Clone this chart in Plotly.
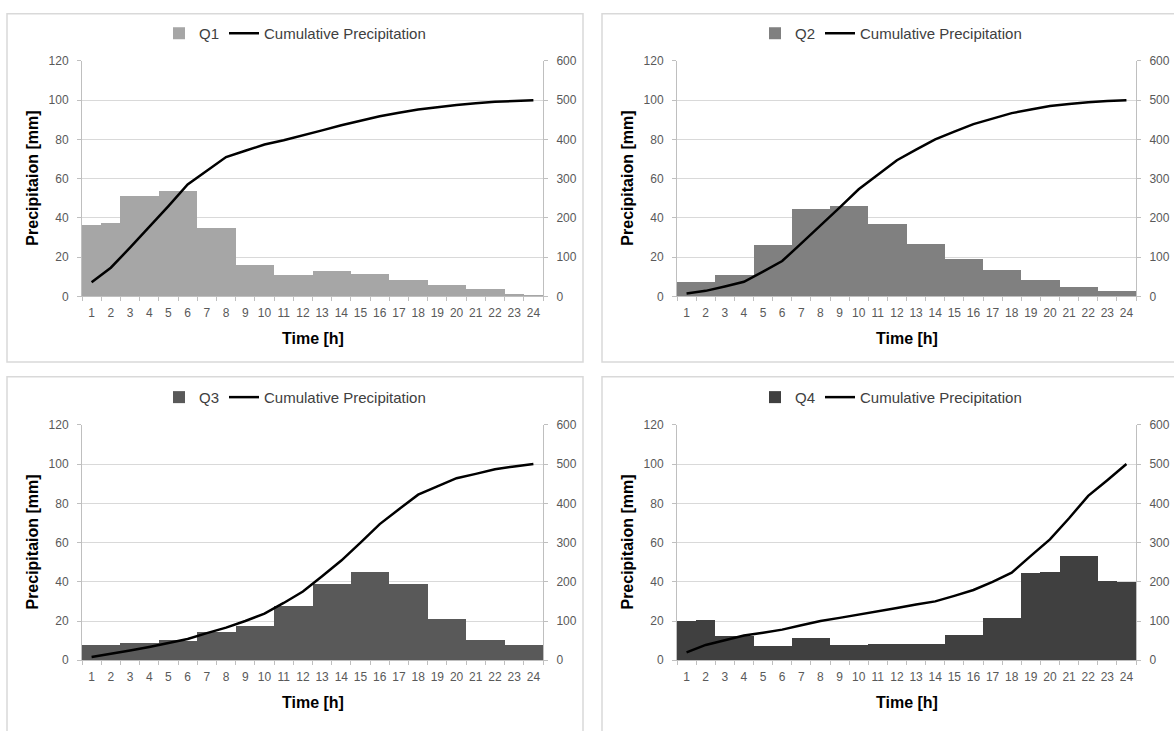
import plotly.graph_objects as go

# ---------------- data ----------------
hours = [str(h) for h in range(1, 25)]

q1 = [36.5, 37.5, 51.2, 51.0, 53.8, 53.8, 34.9, 34.9, 15.9, 15.9, 11.1, 10.8,
      13.2, 13.2, 11.4, 11.4, 8.6, 8.6, 6.0, 6.0, 3.6, 3.6, 1.2, 0.8]
cum1 = [36, 73, 124, 176, 230, 285, 320, 355, 371, 387, 398, 410,
        423, 436, 448, 459, 468, 476, 482, 488, 492, 496, 498, 500]

q2 = [7.1, 7.5, 10.9, 10.9, 26.0, 26.3, 44.4, 44.4, 46.2, 46.2, 37.1, 37.1,
      26.7, 26.5, 19.2, 19.2, 13.7, 13.7, 8.6, 8.6, 4.8, 4.8, 2.8, 2.8]
cum2 = [7, 14, 25, 37, 63, 90, 135, 180, 226, 273, 310, 347,
        374, 400, 420, 439, 453, 467, 476, 485, 490, 495, 498, 500]

q3 = [8.1, 8.1, 8.8, 8.8, 10.4, 10.1, 14.6, 14.3, 17.4, 17.4, 27.5, 27.5,
      38.8, 38.8, 45.1, 45.1, 38.8, 38.8, 21.2, 21.0, 10.6, 10.6, 8.0, 8.0]
cum3 = [8, 16, 25, 34, 44, 54, 69, 83, 100, 119, 146, 175,
        214, 254, 300, 347, 385, 422, 443, 464, 475, 487, 494, 500]

q4 = [20.0, 20.4, 12.3, 12.3, 7.3, 7.3, 11.6, 11.3, 8.1, 8.1, 8.6, 8.6,
      8.3, 8.3, 12.8, 12.8, 21.4, 21.7, 44.8, 45.1, 53.0, 53.0, 40.3, 39.9]
cum4 = [20, 39, 51, 63, 70, 78, 89, 100, 108, 116, 125, 133,
        142, 150, 164, 179, 200, 223, 266, 308, 362, 419, 459, 500]

left_ticks = [0, 20, 40, 60, 80, 100, 120]
right_ticks = [0, 100, 200, 300, 400, 500, 600]

series_names = ["Q1", "Q2", "Q3", "Q4"]
bar_values = [q1, q2, q3, q4]
cum_values = [cum1, cum2, cum3, cum4]
bar_colors = ["#a6a6a6", "#808080", "#595959", "#404040"]
line_name = "Cumulative Precipitation"
y_title = "Precipitaion [mm]"
x_title = "Time [h]"

# ---------------- layout geometry (pixels) ----------------
W, H = 1174, 731
FONT = "Liberation Sans, Arial, sans-serif"


def fx(p):
    return p / W


def fy(p):
    return 1 - p / H


panels = [
    dict(x0=82, x1=543, yt=55, yb=295, box=(7, 7, 583, 362), legx=295, legy=27),
    dict(x0=677, x1=1136, yt=55, yb=295, box=(602, 7, 1190, 362), legx=891, legy=27),
    dict(x0=82, x1=543, yt=426, yb=666, box=(7, 377, 583, 745), legx=295, legy=398),
    dict(x0=677, x1=1136, yt=426, yb=666, box=(602, 377, 1190, 745), legx=891, legy=398),
]

fig = go.Figure()
layout = dict(
    width=W, height=H,
    margin=dict(l=0, r=0, t=0, b=0),
    paper_bgcolor="white", plot_bgcolor="white",
    font=dict(family=FONT, size=12, color="#595959"),
    bargap=0,
    showlegend=True,
)
shapes = []
annotations = []

axis_line = "#bfbfbf"
grid = "#d9d9d9"

for i, p in enumerate(panels):
    n = i + 1
    xa = "x" if n == 1 else f"x{n}"
    yl_idx = 2 * i + 1
    yr_idx = 2 * i + 2
    yl = "y" if yl_idx == 1 else f"y{yl_idx}"
    yr = f"y{yr_idx}"
    leg = "legend" if n == 1 else f"legend{n}"

    fig.add_trace(go.Bar(
        x=hours, y=bar_values[i], name=series_names[i],
        marker=dict(color=bar_colors[i], line=dict(width=0)),
        xaxis=xa, yaxis=yl, legend=leg,
    ))
    fig.add_trace(go.Scatter(
        x=hours, y=cum_values[i], name=line_name, mode="lines",
        line=dict(color="black", width=2.5),
        xaxis=xa, yaxis=yr, legend=leg,
    ))

    xkey = "xaxis" if n == 1 else f"xaxis{n}"
    ylkey = "yaxis" if yl_idx == 1 else f"yaxis{yl_idx}"
    yrkey = f"yaxis{yr_idx}"
    ydom = [fy(p["yb"]), fy(p["yt"])]

    layout[xkey] = dict(
        domain=[fx(p["x0"]), fx(p["x1"])],
        anchor=yl, type="category",
        categoryorder="array", categoryarray=hours,
        range=[-0.5, 23.5],
        tickson="boundaries", ticks="outside", ticklen=4, tickcolor=axis_line,
        showline=True, linecolor=axis_line, linewidth=1,
        showgrid=False, zeroline=False,
        tickangle=0,
        tickfont=dict(size=12, color="#595959"),
        ticklabelstandoff=5,
        fixedrange=True,
    )
    layout[ylkey] = dict(
        domain=ydom, anchor=xa,
        range=[0, 120], tickvals=left_ticks,
        ticks="outside", ticklen=4, tickcolor=axis_line,
        showline=True, linecolor=axis_line, linewidth=1,
        showgrid=True, gridcolor=grid, gridwidth=1,
        zeroline=False,
        tickfont=dict(size=12, color="#595959"),
        ticklabelstandoff=6,
        fixedrange=True,
    )
    layout[yrkey] = dict(
        domain=ydom, anchor=xa, overlaying=yl, side="right",
        range=[0, 600], tickvals=right_ticks,
        ticks="outside", ticklen=4, tickcolor=axis_line,
        showline=True, linecolor=axis_line, linewidth=1,
        showgrid=False, zeroline=False,
        tickfont=dict(size=12, color="#595959"),
        ticklabelstandoff=6,
        fixedrange=True,
    )
    layout[leg] = dict(
        orientation="h",
        x=fx(p["legx"]), xanchor="center",
        y=fy(p["legy"]), yanchor="middle",
        font=dict(family=FONT, size=15, color="#404040"),
        bgcolor="rgba(0,0,0,0)",
        itemwidth=30,
        traceorder="normal",
    )

    bx0, by0, bx1, by1 = p["box"]
    shapes.append(dict(
        type="rect", xref="paper", yref="paper",
        x0=fx(bx0), x1=fx(bx1), y0=fy(by1), y1=fy(by0),
        line=dict(color="#d9d9d9", width=1.5), fillcolor="rgba(0,0,0,0)",
        layer="below",
    ))

    # axis titles
    annotations.append(dict(
        text=f"<b>{y_title}</b>", xref="paper", yref="paper",
        x=fx(p["x0"] - 49), y=fy((p["yt"] + p["yb"]) / 2),
        xanchor="center", yanchor="middle", textangle=-90, showarrow=False,
        font=dict(family=FONT, size=16, color="black"),
    ))
    annotations.append(dict(
        text=f"<b>{x_title}</b>", xref="paper", yref="paper",
        x=fx((p["x0"] + p["x1"]) / 2), y=fy(p["yb"] + 43),
        xanchor="center", yanchor="middle", showarrow=False,
        font=dict(family=FONT, size=16, color="black"),
    ))

layout["shapes"] = shapes
layout["annotations"] = annotations
fig.update_layout(**layout)

fig.write_html("out.html")
